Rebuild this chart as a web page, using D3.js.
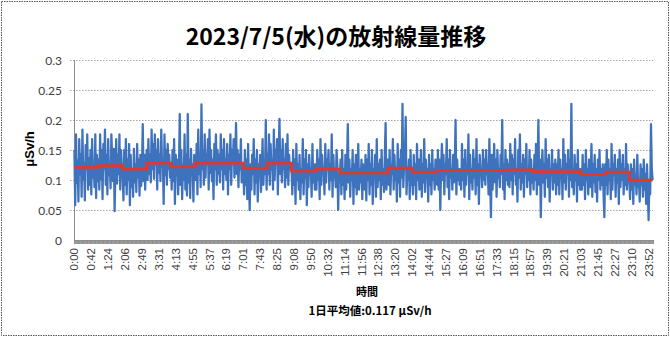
<!DOCTYPE html>
<html><head><meta charset="utf-8">
<script src="https://cdn.jsdelivr.net/npm/d3@7"></script>
<style>body{margin:0;background:#fff}svg{display:block}</style>
</head><body><svg id="c" width="670" height="337"></svg>
<script>
const chartTitle = "2023/7/5(水)の放射線量推移";
const yAxisTitle = "μSv/h";
const xAxisTitle = "時間";
const dailyAvgText = "1日平均値:0.117 μSv/h";
const tickLabels = ["0:00","0:42","1:24","2:06","2:49","3:31","4:13","4:55","5:37","6:19","7:01","7:43","8:25","9:08","9:50","10:32","11:14","11:56","12:38","13:20","14:02","14:44","15:27","16:09","16:51","17:33","18:15","18:57","19:39","20:21","21:03","21:45","22:27","23:10","23:52"];
const yTicks = [0, 0.05, 0.1, 0.15, 0.2, 0.25, 0.3];
const yTickLabels = ["0","0.05","0.1","0.15","0.2","0.25","0.3"];
// hourly averages (red line), μSv/h
const hourlyAvg = [0.121,0.124,0.118,0.128,0.122,0.128,0.128,0.120,0.128,0.115,0.118,0.112,0.112,0.120,0.113,0.116,0.116,0.116,0.117,0.114,0.114,0.109,0.113,0.100];
// dose rate readings (blue line), nSv/h, 30 readings per hour
const doseRate_nSv = [
150,58,176,95,132,64,168,110,143,72,184,101,128,66,158,118,176,84,136,92,150,76,168,104,126,88,176,70,142,98,
134,84,176,102,150,68,160,118,184,92,142,76,168,108,126,86,176,132,98,152,48,118,168,94,142,110,176,84,150,122,
110,66,150,92,168,76,134,100,160,58,142,88,118,72,152,96,126,80,160,104,134,74,142,90,116,193,98,142,84,126,
150,100,168,110,142,96,184,118,160,102,176,126,150,84,168,112,142,98,184,122,134,60,176,108,150,92,160,118,142,104,
126,84,150,98,168,60,142,110,134,76,118,210,92,150,68,126,100,176,84,142,74,210,96,134,70,152,108,126,64,142,
134,100,160,76,184,110,142,88,226,118,150,92,176,104,142,126,168,84,184,112,150,98,134,68,160,118,176,92,150,110,
142,96,176,118,150,84,168,110,134,100,160,76,142,118,176,92,150,126,168,104,134,195,110,150,88,142,118,168,96,126,
118,76,150,92,134,68,160,100,50,126,84,142,110,168,76,134,96,150,64,126,104,142,80,118,168,92,134,110,200,84,
142,110,176,92,160,118,134,84,184,100,150,126,168,76,142,202,110,150,96,168,118,134,88,160,104,176,92,142,118,126,
118,76,150,92,134,60,160,100,126,84,142,68,118,96,168,76,134,104,150,58,126,88,142,110,118,72,160,96,126,84,
126,84,150,100,134,68,168,92,142,110,118,76,160,96,134,118,150,84,126,100,176,72,142,104,118,88,150,126,50,110,
100,134,76,150,92,118,68,142,84,126,193,96,134,72,118,100,150,60,126,88,142,76,110,160,84,118,96,134,68,126,
118,84,142,66,134,100,160,76,126,92,150,60,118,104,142,72,168,88,126,100,134,68,150,92,118,80,142,195,84,110,
134,92,150,76,126,110,168,84,142,100,118,64,160,96,134,72,150,104,227,88,126,142,205,76,118,100,134,68,150,92,
110,76,142,92,126,68,160,100,134,84,118,150,72,126,96,168,80,134,104,118,64,142,92,126,76,150,100,118,84,134,
126,92,150,84,134,50,118,160,100,142,76,126,110,168,88,134,68,150,104,118,84,142,96,126,200,76,134,100,118,92,
118,84,160,100,134,72,150,92,126,110,176,68,142,96,118,84,150,104,134,76,168,92,126,60,142,110,118,88,150,100,
134,92,150,110,126,76,168,100,38,142,84,118,160,96,134,72,150,104,118,88,142,110,200,84,126,68,150,100,134,92,
126,88,160,100,142,76,134,110,168,92,118,64,150,104,176,84,126,96,142,72,134,110,160,88,118,100,150,76,134,96,
118,84,142,100,160,76,126,200,92,134,38,118,150,96,126,72,168,104,134,88,142,64,118,110,150,84,126,96,134,76,
126,92,150,76,134,104,118,68,168,96,142,84,126,110,150,72,134,100,227,88,118,76,142,100,126,64,150,92,118,84,
118,84,142,92,126,68,150,100,118,76,134,88,110,160,72,126,96,142,80,118,64,134,100,150,84,118,92,126,76,38,
126,92,150,76,134,100,118,68,160,84,126,110,142,72,118,96,134,60,150,88,126,100,142,76,118,92,160,84,126,104,
100,68,126,84,118,60,134,92,110,76,142,88,100,64,126,92,118,72,134,84,110,60,126,88,33,100,76,193,118,100
];
const doseRate = doseRate_nSv.map(v => v / 1000);
const pointsPerLabel = 21;
const pointsPerHour = 30;

const svg = d3.select("#c");
const W = 670, H = 337;
const L = 74, R = 653, T = 60, B = 240;
const N = doseRate.length;
const x = d3.scaleLinear().domain([0, N]).range([L, R]);
const y = d3.scaleLinear().domain([0, 0.3]).range([B, T]);

svg.append("rect").attr("width", W).attr("height", H).attr("fill", "#fff");
svg.append("rect").attr("x", 1.5).attr("y", 1.5).attr("width", W - 3).attr("height", H - 3)
  .attr("fill", "none").attr("stroke", "#555").attr("stroke-dasharray", "1.5,1");

// title
svg.append("text").attr("x", 336).attr("y", 45).attr("text-anchor", "middle")
  .attr("font-family", "'Noto Sans CJK JP', sans-serif").attr("font-weight", "bold")
  .attr("font-size", 23).attr("fill", "#000").text(chartTitle);

// gridlines
svg.append("g").selectAll("line").data(yTicks.filter(d => d > 0)).join("line")
  .attr("x1", L - 4).attr("x2", R).attr("y1", d => y(d) + 0.5).attr("y2", d => y(d) + 0.5)
  .attr("stroke", "#a6a6a6").attr("stroke-dasharray", "1.5,1.5");

// y axis
svg.append("line").attr("x1", L + 0.5).attr("x2", L + 0.5).attr("y1", T).attr("y2", B)
  .attr("stroke", "#8c8c8c");
svg.append("g").selectAll("text").data(yTicks).join("text")
  .attr("x", 62).attr("y", d => y(d) + 4.5).attr("text-anchor", "end")
  .attr("font-family", "Lato, 'Liberation Sans', sans-serif").attr("font-size", 12).attr("fill", "#404040")
  .text((d, i) => yTickLabels[i]);

// x axis (category ticks)
const xAxis = d3.axisBottom(x).tickValues(d3.range(N + 1)).tickSize(4).tickFormat("");
const gx = svg.append("g").attr("transform", `translate(0,${B})`).call(xAxis);
gx.select(".domain").attr("stroke", "#8c8c8c");
gx.selectAll(".tick line").attr("stroke", "#8c8c8c");

svg.append("g").selectAll("text").data(tickLabels).join("text")
  .attr("transform", (d, i) => `translate(${x(i * pointsPerLabel + 0.5)},248) rotate(-90)`)
  .attr("text-anchor", "end").attr("dy", "0.35em")
  .attr("font-family", "'Liberation Sans', sans-serif").attr("font-size", 11.5).attr("fill", "#404040")
  .text(d => d);

// series
const line = d3.line().x((d, i) => x(i + 0.5)).y(d => y(d));
svg.append("path").datum(doseRate).attr("d", line).attr("fill", "none")
  .attr("stroke", "#3f72bc").attr("stroke-width", 2.25).attr("stroke-linejoin", "round");

const stepData = hourlyAvg.map((v, h) => [h * pointsPerHour + 0.5, v]);
stepData.push([N - 0.5, hourlyAvg[hourlyAvg.length - 1]]);
const stepLine = d3.line().x(d => x(d[0])).y(d => y(d[1])).curve(d3.curveStepAfter);
svg.append("path").datum(stepData).attr("d", stepLine).attr("fill", "none")
  .attr("stroke", "#e0392b").attr("stroke-width", 2.75);

// axis titles
svg.append("text").attr("transform", "translate(34,149) rotate(-90)").attr("text-anchor", "middle")
  .attr("font-family", "'Liberation Sans', sans-serif").attr("font-weight", "bold")
  .attr("font-size", 13).attr("fill", "#000").text(yAxisTitle);
svg.append("text").attr("x", 367).attr("y", 296).attr("text-anchor", "middle")
  .attr("font-family", "'Noto Sans CJK JP', sans-serif").attr("font-weight", "bold")
  .attr("font-size", 11).attr("fill", "#000").text(xAxisTitle);
svg.append("text").attr("x", 370).attr("y", 315).attr("text-anchor", "middle")
  .attr("font-family", "'Noto Sans CJK JP', sans-serif").attr("font-weight", "bold")
  .attr("font-size", 11.5).attr("fill", "#000").text(dailyAvgText);
</script></body></html>
